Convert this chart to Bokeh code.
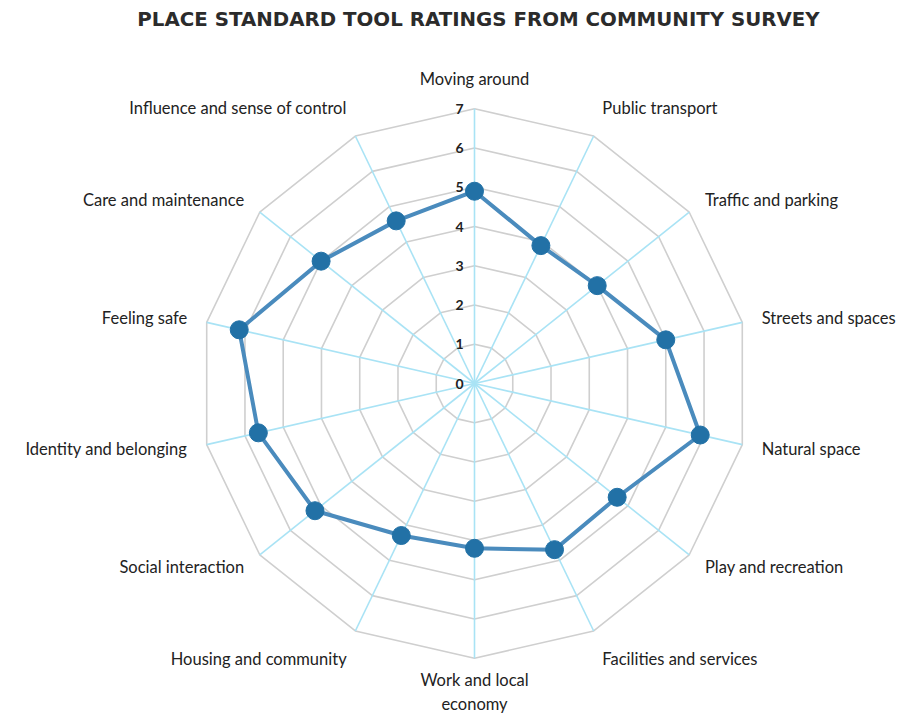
import numpy as np
from bokeh.plotting import figure
from bokeh.models import Label, ColumnDataSource
from bokeh.embed import file_html
from bokeh.resources import INLINE
from bokeh.core.properties import value

# ---- data ----
categories = ["Moving around", "Public transport", "Traffic and parking",
              "Streets and spaces", "Natural space", "Play and recreation",
              "Facilities and services", "Work and local\neconomy",
              "Housing and community", "Social interaction",
              "Identity and belonging", "Feeling safe",
              "Care and maintenance", "Influence and sense of control"]
ratings = [4.9, 3.9, 4.0, 5.0, 5.9, 4.65, 4.7, 4.2, 4.3, 5.2, 5.65, 6.15, 5.0, 4.6]
levels = [1, 2, 3, 4, 5, 6, 7]
tick_values = [0, 1, 2, 3, 4, 5, 6, 7]
tick_labels = ["0", "1", "2", "3", "4", "5", "6", "7"]
title_text = "PLACE STANDARD TOOL RATINGS FROM COMMUNITY SURVEY"

# ---- layout ----
W, H = 906, 716
cx, cy = 474, 383              # centre in figure pixels
unit = 39.24                   # pixels per rating point
x0 = -cx / unit
x1 = (W - cx) / unit
y1 = cy / unit
y0 = -(H - cy) / unit

p = figure(width=W, height=H, x_range=(x0, x1), y_range=(y0, y1),
           output_backend="svg", toolbar_location=None, min_border=0,
           outline_line_color=None, background_fill_color="white",
           border_fill_color="white")
p.axis.visible = False
p.xgrid.visible = False
p.ygrid.visible = False

n = len(categories)
ang = np.arange(n) * 2 * np.pi / n
s, c = np.sin(ang), np.cos(ang)
rmax = max(levels)

# grid polygons
gx = [list(np.append(l * s, l * s[0])) for l in levels]
gy = [list(np.append(l * c, l * c[0])) for l in levels]
p.multi_line(gx, gy, line_color="#cfcfcf", line_width=1.6)

# spokes
p.segment(x0=[0] * n, y0=[0] * n, x1=list(rmax * s), y1=list(rmax * c),
          line_color="#a9e3f5", line_width=1.6)

# series
r = np.array(ratings)
px, py = r * s, r * c
p.line(list(np.append(px, px[0])), list(np.append(py, py[0])),
       line_color="#4a8bbd", line_width=4)
p.scatter(list(px), list(py), size=18, fill_color="#2271a6", line_color="#2271a6")

# tick labels
p.text(x=[0] * len(tick_values), y=tick_values, text=tick_labels,
       x_offset=-11, text_align="right", text_baseline="middle",
       text_font=value("Lato"), text_font_style="bold", text_font_size="14px",
       text_color="#222222")

# category labels
aligns, bases, dist = [], [], []
for si, ci in zip(s, c):
    aligns.append("center" if abs(si) < 0.1 else ("left" if si > 0 else "right"))
    bases.append("bottom" if ci > 0.8 else ("top" if ci < -0.8 else "middle"))
    dist.append(12 if ci < -0.99 else 20)
dist = np.array(dist)
src = ColumnDataSource(dict(x=list(rmax * s), y=list(rmax * c), t=categories,
                            xo=list(dist * s), yo=list(-dist * c),
                            a=aligns, b=bases))
p.text(x="x", y="y", text="t", source=src, x_offset="xo", y_offset="yo",
       text_align="a", text_baseline="b", text_font=value("Lato"),
       text_font_size="16.5px", text_color="#222222", text_line_height=1.2)

# title
p.add_layout(Label(x=478, y=H - 19, x_units="screen", y_units="screen",
                   text=title_text, text_align="center", text_baseline="middle",
                   text_font="DejaVu Sans", text_font_style="bold",
                   text_font_size="19.8px", text_color="#2b2b2b"))

open("out.html", "w").write(file_html(p, INLINE))
